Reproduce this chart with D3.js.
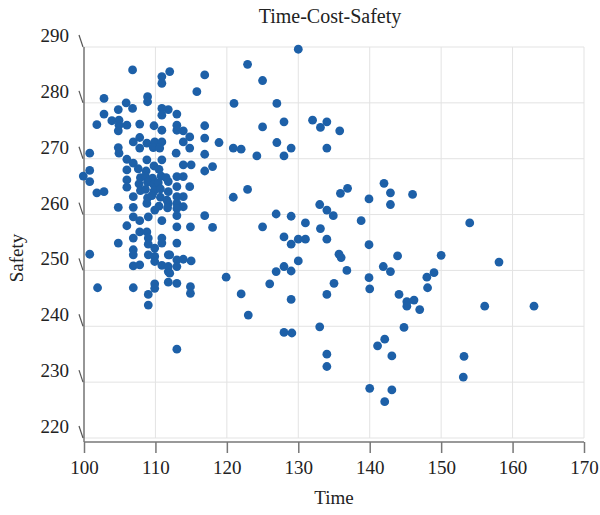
<!DOCTYPE html>
<html>
<head>
<meta charset="utf-8">
<script src="https://cdn.jsdelivr.net/npm/d3@7"></script>
<style>
  body { margin: 0; background: #fff; }
  text { font-family: "Liberation Serif", "DejaVu Serif", serif; fill: #222; }
</style>
</head>
<body>
<div id="chart"></div>
<script>
// values
const time = [
  130.0,125.0,127.0,125.0,128.0,132.0,133.1,134.0,135.8,127.0,129.0,128.0,124.2,134.0,142.0,142.9,142.9,136.9,135.9,139.9,
  133.0,134.0,134.9,126.9,129.0,131.0,125.0,138.8,133.1,128.0,129.0,130.0,131.0,134.0,139.9,135.7,136.0,143.9,130.0,128.0,
  126.9,129.0,136.8,141.9,142.9,126.0,135.0,139.9,140.0,134.0,144.1,129.0,128.0,129.1,133.0,144.8,142.1,141.1,143.1,134.0,
  134.0,140.0,143.1,142.1,
  146.0,154.0,150.0,158.1,149.0,148.0,148.1,145.2,146.2,145.2,147.0,156.1,163.0,153.2,153.1,
  112.0,116.9,115.8,122.9,121.0,111.8,113.0,113.0,113.0,113.9,114.8,113.9,116.9,116.9,118.9,120.9,122.0,114.8,112.9,116.9,
  113.9,115.0,116.9,118.0,113.0,113.9,111.8,113.0,114.8,111.8,113.0,113.9,111.8,113.0,113.9,122.9,120.9,
  106.8,102.8,108.9,108.9,105.9,106.8,104.8,102.8,103.9,104.9,104.9,106.0,101.8,107.8,104.8,109.8,110.9,110.9,110.9,110.9,
  110.9,106.9,107.8,108.8,109.9,110.9,104.8,104.9,107.8,109.7,110.6,100.8,106.0,106.9,108.8,110.9,100.8,99.9,100.8,106.0,
  106.0,106.0,101.8,102.8,106.9,108.8,104.8,106.9,
  107.6,108.7,109.8,110.5,107.9,108.6,109.6,110.8,111.5,107.7,108.9,109.8,110.4,107.9,108.6,109.8,110.7,108.9,109.5,110.7,
  111.6,110.5,111.7,
  109.9,106.9,107.8,109.0,110.9,106.0,107.8,108.8,109.0,106.9,110.9,104.8,109.0,110.9,109.9,106.9,106.9,100.8,109.0,109.9,
  111.8,109.9,110.9,106.9,107.8,111.8,111.8,109.9,109.9,101.9,106.9,109.0,109.0,
  113.0,113.0,116.9,113.0,114.9,118.0,113.0,112.0,113.0,113.9,115.0,111.8,113.0,112.0,113.0,114.9,114.9,119.9,122.0,123.0,
  113.0
];
const safety = [
  289.6,284.0,279.9,275.7,276.6,276.9,275.6,276.6,275.0,272.9,271.9,270.5,270.5,271.9,265.6,263.9,261.8,264.7,263.8,262.8,
  261.8,260.8,259.8,260.1,259.7,258.5,257.8,258.9,257.5,256.0,254.7,255.6,255.6,255.6,254.6,252.9,252.3,252.6,251.7,250.7,
  249.8,249.9,250.0,250.7,249.8,247.6,247.7,248.7,246.7,245.7,245.7,244.8,238.9,238.8,239.9,239.8,237.7,236.5,234.7,235.0,
  232.8,228.9,228.6,226.5,
  263.6,258.5,252.7,251.5,249.6,248.8,246.9,244.4,244.7,243.6,243.0,243.6,243.6,234.6,230.9,
  285.6,285.0,282.0,286.9,279.9,278.8,278.0,276.0,275.1,275.0,273.9,273.0,275.9,273.7,272.9,271.9,271.7,271.9,271.0,270.8,
  268.9,268.9,267.8,268.6,266.8,266.8,265.9,265.0,265.0,264.1,263.2,263.2,262.0,262.0,261.4,264.5,263.1,
  285.9,280.8,281.1,280.2,280.0,279.0,278.8,278.0,276.8,276.9,276.0,276.0,276.1,276.2,275.0,275.9,275.1,284.7,283.5,279.0,
  277.8,273.0,273.8,272.8,273.0,273.0,272.0,271.0,271.9,272.0,271.9,271.0,269.9,269.2,269.8,269.8,267.9,266.9,265.9,268.0,
  266.2,264.9,263.9,264.1,263.2,262.0,261.3,261.3,
  268.2,267.8,268.7,268.1,266.6,266.9,266.5,266.9,266.6,265.5,265.8,265.3,265.7,264.3,264.5,264.2,264.6,263.0,263.4,263.1,
  262.6,261.5,261.2,
  260.8,259.6,258.9,259.6,258.9,258.0,256.9,256.9,255.8,255.8,255.8,254.9,254.7,254.9,254.0,253.7,252.8,252.9,252.8,252.5,
  252.8,251.6,250.9,250.8,251.0,249.8,247.9,247.6,246.8,246.9,246.9,245.7,243.8,
  261.1,259.8,259.8,257.8,257.8,257.7,254.9,252.8,251.9,252.0,251.7,250.7,250.7,249.5,247.7,247.1,245.9,248.8,245.8,242.0,
  235.9
];
const xTicks = [100, 110, 120, 130, 140, 150, 160, 170];
const yTicks = [220, 230, 240, 250, 260, 270, 280, 290];

const W = 600, H = 515;
const plotL = 84, plotR = 584, plotT = 47, plotB = 438, axisY = 442;

const svg = d3.select("#chart").append("svg")
    .attr("width", W)
    .attr("height", H);

const x = d3.scaleLinear().domain([100, 170]).range([plotL, plotR]);
const y = d3.scaleLinear().domain([220, 290]).range([plotB, plotT]);

// grid
svg.append("g").selectAll("line")
    .data(xTicks)
    .enter().append("line")
    .attr("x1", d => x(d)).attr("x2", d => x(d))
    .attr("y1", plotT).attr("y2", plotB)
    .attr("stroke", "#e3e3e3").attr("stroke-width", 1);

svg.append("g").selectAll("line")
    .data(yTicks)
    .enter().append("line")
    .attr("x1", plotL).attr("x2", plotR)
    .attr("y1", d => y(d)).attr("y2", d => y(d))
    .attr("stroke", "#e3e3e3").attr("stroke-width", 1);

// x axis
const xAxis = svg.append("g")
    .attr("transform", "translate(0," + axisY + ")")
    .call(d3.axisBottom(x).tickValues(xTicks).tickSize(11).tickPadding(8).tickFormat(d3.format("d")));
xAxis.select(".domain").attr("stroke", "#777").attr("stroke-width", 1.5).attr("d", "M" + plotL + ",0H" + plotR);
xAxis.selectAll(".tick line").attr("stroke", "#777").attr("stroke-width", 1.5);
xAxis.selectAll(".tick text")
    .style("font-family", "Liberation Serif, serif")
    .style("font-size", "19px")
    .attr("fill", "#222");

// y axis: vertical line plus slanted ticks (3-D view look)
svg.append("line")
    .attr("x1", plotL).attr("x2", plotL)
    .attr("y1", plotT).attr("y2", axisY)
    .attr("stroke", "#777").attr("stroke-width", 1.5);

const yt = svg.append("g").selectAll("g")
    .data(yTicks)
    .enter().append("g");
yt.append("line")
    .attr("x1", plotL - 5).attr("y1", d => y(d) - 12)
    .attr("x2", plotL - 1).attr("y2", d => y(d))
    .attr("stroke", "#555").attr("stroke-width", 1.2);
yt.append("text")
    .attr("x", plotL - 15)
    .attr("y", d => y(d) - 5)
    .attr("text-anchor", "end")
    .style("font-size", "19px")
    .text(d => d);

// points
const pts = time.map((t, i) => ({ t: t, s: safety[i] }));
svg.append("g").selectAll("circle")
    .data(pts)
    .enter().append("circle")
    .attr("cx", d => x(d.t))
    .attr("cy", d => y(d.s))
    .attr("r", 4.4)
    .attr("fill", "#1d60a8");

// titles
svg.append("text")
    .attr("x", 330)
    .attr("y", 23)
    .attr("text-anchor", "middle")
    .style("font-size", "20px")
    .text("Time-Cost-Safety");

svg.append("text")
    .attr("x", (plotL + plotR) / 2)
    .attr("y", 504)
    .attr("text-anchor", "middle")
    .style("font-size", "19px")
    .text("Time");

svg.append("text")
    .attr("transform", "translate(23,258) rotate(-90)")
    .attr("text-anchor", "middle")
    .style("font-size", "19px")
    .text("Safety");
</script>
</body>
</html>
